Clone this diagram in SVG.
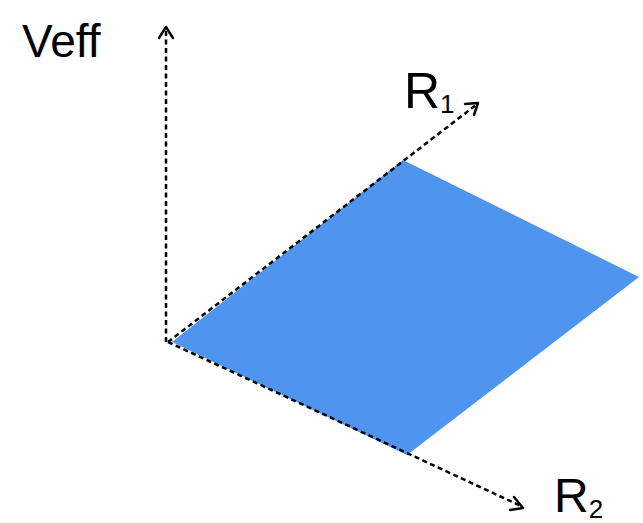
<svg xmlns="http://www.w3.org/2000/svg" width="643" height="523" viewBox="0 0 643 523">
<defs>
<style>
.axis{fill:none;stroke:#000;stroke-width:2.5;stroke-dasharray:5 3.5}
.head{fill:none;stroke:#000;stroke-width:2.5;stroke-linecap:round;stroke-linejoin:round}
.lbl{font-family:"Liberation Sans",Arial,sans-serif;fill:#000}
</style>
</defs>
<rect width="643" height="523" fill="#fff"/>
<g id="plane">
<polygon points="172,342 403,160 639,277 407,455" fill="#4F94EE"/>
</g>
<g id="connectors">
<line class="axis" x1="166" y1="342" x2="166" y2="30"/>
<polyline class="head" points="159,38 166,27 173,38"/>
<line class="axis" x1="168" y1="342" x2="476" y2="105"/>
<polyline class="head" points="465,104 478,103 474,115"/>
<line class="axis" x1="168" y1="342" x2="521" y2="506"/>
<polyline class="head" points="514,497 523,508 510,510"/>
</g>
<g id="veff"><text class="lbl" x="22" y="57" font-size="46">Veff</text></g>
<g id="r1"><text class="lbl" x="404" y="108" font-size="50">R<tspan font-size="26" dy="5">1</tspan></text></g>
<g id="r2"><text class="lbl" x="554" y="512" font-size="48">R<tspan font-size="26" dy="6">2</tspan></text></g>
</svg>
